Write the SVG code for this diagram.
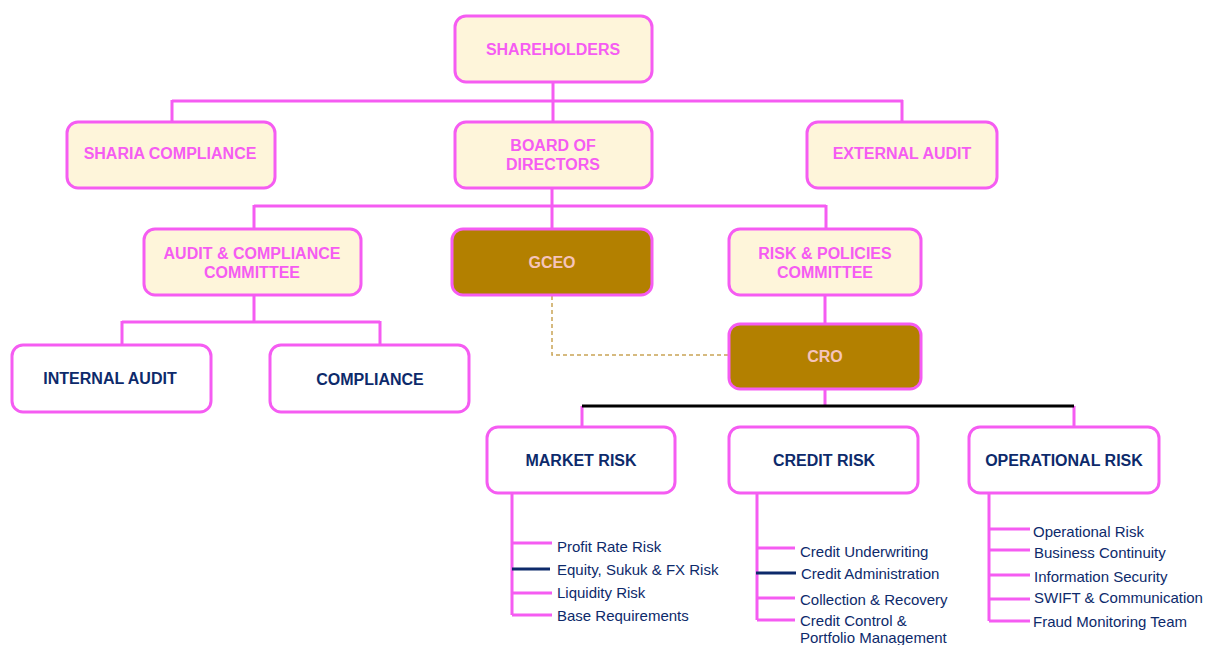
<svg xmlns="http://www.w3.org/2000/svg" width="1206" height="645" viewBox="0 0 1206 645">
<style>
.box{fill:#FEF5DA;stroke:#F55CF2;stroke-width:3}
.wbox{fill:#FFFFFF;stroke:#F55CF2;stroke-width:3}
.gbox{fill:#B38000;stroke:#F55CF2;stroke-width:3}
.pt{font-family:"Liberation Sans",Arial,sans-serif;font-weight:bold;font-size:16px;fill:#F55CF2;text-anchor:middle}
.gt{font-family:"Liberation Sans",Arial,sans-serif;font-weight:bold;font-size:16px;fill:#F5C4BC;text-anchor:middle}
.nt{font-family:"Liberation Sans",Arial,sans-serif;font-weight:bold;font-size:16px;fill:#0D2A6B;text-anchor:middle}
.st{font-family:"Liberation Sans",Arial,sans-serif;font-size:15px;fill:#0D2A6B}
.c{fill:none;stroke:#F55CF2;stroke-width:3}
.k{fill:none;stroke:#000000;stroke-width:3}
.n{fill:none;stroke:#0D2A6B;stroke-width:3}
.d{fill:none;stroke:#C9A456;stroke-width:1.5;stroke-dasharray:4,3}
</style>
<g id="connectors">
<path class="c" d="M553 82V122M172 101H903M172 100V122M902 100V122"/>
<path class="c" d="M552 188V228M254 206H826M254 205V228M826 205V228"/>
<path class="c" d="M254 295V322M122 322H380M122 321V344M380 321V344"/>
<path class="c" d="M825 296V323M825 390V406M582 406V427M1074 406V427"/>
<path class="k" d="M582 406H1074"/>
<path class="d" d="M552 296V355H729"/>
<path class="c" d="M512 493V615M512 543H552M512 593H552M512 615H552"/>
<path class="n" d="M512 569H550"/>
<path class="c" d="M757 493V620M757 548H795M757 598H795M757 620H795"/>
<path class="n" d="M756 573H796"/>
<path class="c" d="M989 493V621M989 529H1030M989 550H1030M989 575H1030M989 599H1030M989 621H1030"/>
</g>
<g id="shareholders"><rect class="box" x="455" y="16" width="197" height="66" rx="11"/><text class="pt" x="553" y="55">SHAREHOLDERS</text></g>
<g id="sharia"><rect class="box" x="67" y="122" width="208" height="66" rx="11"/><text class="pt" x="170" y="159">SHARIA COMPLIANCE</text></g>
<g id="board"><rect class="box" x="455" y="122" width="197" height="66" rx="11"/><text class="pt" x="553" y="151">BOARD OF</text><text class="pt" x="553" y="170">DIRECTORS</text></g>
<g id="external-audit"><rect class="box" x="807" y="122" width="190" height="66" rx="11"/><text class="pt" x="902" y="159">EXTERNAL AUDIT</text></g>
<g id="audit-committee"><rect class="box" x="144" y="229" width="217" height="66" rx="11"/><text class="pt" x="252" y="259">AUDIT &amp; COMPLIANCE</text><text class="pt" x="252" y="278">COMMITTEE</text></g>
<g id="gceo"><rect class="gbox" x="452" y="229" width="200" height="66" rx="11"/><text class="gt" x="552" y="268">GCEO</text></g>
<g id="risk-committee"><rect class="box" x="729" y="229" width="192" height="66" rx="11"/><text class="pt" x="825" y="259">RISK &amp; POLICIES</text><text class="pt" x="825" y="278">COMMITTEE</text></g>
<g id="cro"><rect class="gbox" x="729" y="324" width="192" height="65" rx="11"/><text class="gt" x="825" y="362">CRO</text></g>
<g id="internal-audit"><rect class="wbox" x="12" y="345" width="199" height="67" rx="11"/><text class="nt" x="110" y="384">INTERNAL AUDIT</text></g>
<g id="compliance"><rect class="wbox" x="270" y="345" width="199" height="67" rx="11"/><text class="nt" x="370" y="385">COMPLIANCE</text></g>
<g id="market-risk"><rect class="wbox" x="487" y="427" width="188" height="66" rx="11"/><text class="nt" x="581" y="466">MARKET RISK</text>
<text class="st" x="557" y="552">Profit Rate Risk</text><text class="st" x="557" y="575">Equity, Sukuk &amp; FX Risk</text><text class="st" x="557" y="598">Liquidity Risk</text><text class="st" x="557" y="621">Base Requirements</text></g>
<g id="credit-risk"><rect class="wbox" x="729" y="427" width="189" height="66" rx="11"/><text class="nt" x="824" y="466">CREDIT RISK</text>
<text class="st" x="800" y="557">Credit Underwriting</text><text class="st" x="801" y="579">Credit Administration</text><text class="st" x="800" y="605">Collection &amp; Recovery</text><text class="st" x="800" y="626">Credit Control &amp;</text><text class="st" x="800" y="643">Portfolio Management</text></g>
<g id="operational-risk"><rect class="wbox" x="969" y="427" width="190" height="66" rx="11"/><text class="nt" x="1064" y="466">OPERATIONAL RISK</text>
<text class="st" x="1033" y="537">Operational Risk</text><text class="st" x="1034" y="558">Business Continuity</text><text class="st" x="1034" y="582">Information Security</text><text class="st" x="1034" y="603">SWIFT &amp; Communication</text><text class="st" x="1033" y="627">Fraud Monitoring Team</text></g>
</svg>
